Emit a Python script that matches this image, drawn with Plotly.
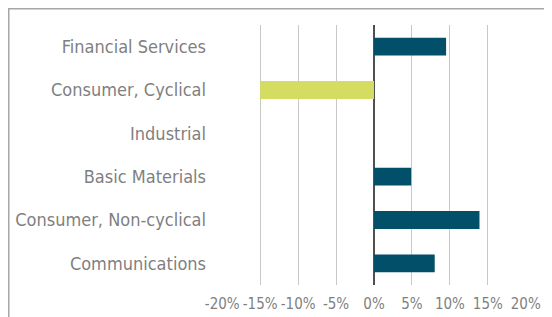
import plotly.graph_objects as go

categories = ["Financial Services", "Consumer, Cyclical", "Industrial",
              "Basic Materials", "Consumer, Non-cyclical", "Communications"]
values = [0.095, -0.15, 0.0, 0.049, 0.139, 0.080]
pos_color = "#024F6A"
neg_color = "#D4DC62"
tick_vals = [-0.20, -0.15, -0.10, -0.05, 0.0, 0.05, 0.10, 0.15, 0.20]
tick_text = ["-20%", "-15%", "-10%", "-5%", "0%", "5%", "10%", "15%", "20%"]

colors = [pos_color if v >= 0 else neg_color for v in values]

fig = go.Figure(go.Bar(
    y=categories, x=values, orientation="h",
    marker=dict(color=colors, line=dict(width=0)),
    width=0.41,
))

# page is offset by the 8px body margin of the html page
OFF = 8
W, H = 552 - OFF, 317 - OFF
L, R, T, B = 222 - OFF, 26, 25 - OFF, 32
pw, ph = W - L - R, H - T - B

def px(x):
    return (x - L) / pw

def py(y):
    return (H - B - y) / ph

FONT = "DejaVu Sans Condensed, DejaVu Sans"
fig.update_layout(
    width=W, height=H,
    margin=dict(l=L, r=R, t=T, b=B, autoexpand=False),
    paper_bgcolor="white", plot_bgcolor="white",
    showlegend=False,
    font=dict(family=FONT, color="#7F7F7F", size=16),
    xaxis=dict(range=[-0.2003, 0.2003], tickvals=tick_vals, ticktext=tick_text,
               showgrid=True, gridcolor="#C8C8C8", gridwidth=1,
               zeroline=True, zerolinecolor="#505050", zerolinewidth=1.5,
               showline=False, ticks="", tickangle=0, automargin=False,
               tickfont=dict(family=FONT, size=15, color="#7F7F7F"),
               ticklabelstandoff=8, fixedrange=True),
    yaxis=dict(categoryorder="array", categoryarray=categories[::-1],
               showgrid=False, zeroline=False, showline=False, ticks="",
               automargin=False,
               tickfont=dict(family=FONT, size=18, color="#7F7F7F"),
               ticklabelstandoff=15, fixedrange=True),
    shapes=[dict(type="rect", xref="paper", yref="paper",
                 x0=px(0.75), x1=px(700), y0=py(0.75), y1=py(500),
                 line=dict(color="#A6A6A6", width=1.5), layer="below")],
)

fig.write_html("out.html")
